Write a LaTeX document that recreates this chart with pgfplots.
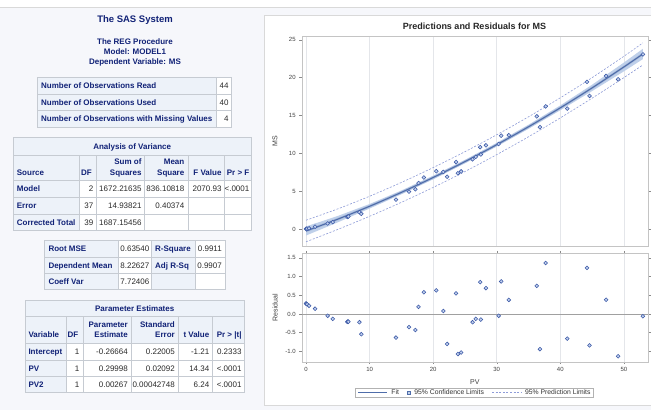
\documentclass[border=0pt]{standalone}
\usepackage{fontspec}
\setmainfont{Liberation Sans}
\usepackage{pgfplots}
\pgfplotsset{compat=1.18}
\usepackage{pgfplotstable}

\definecolor{pagebg}{HTML}{F6F7FB}
\definecolor{hdr}{HTML}{EDF2F9}
\definecolor{hdrtxt}{HTML}{112277}
\definecolor{bord}{HTML}{C6CBD2}
\definecolor{valc}{HTML}{2A2A2A}
\definecolor{framec}{HTML}{C4C4C4}
\definecolor{gridc}{HTML}{E4E6EA}
\definecolor{tickc}{HTML}{8A8A8A}
\definecolor{labc}{HTML}{404040}
\definecolor{fitc}{HTML}{4F6DAA}
\definecolor{clmc}{HTML}{BFD0EA}
\definecolor{plc}{HTML}{8E9CD8}
\definecolor{ptc}{HTML}{3B58A6}
\definecolor{ptfill}{HTML}{C2D1EE}
\definecolor{refc}{HTML}{A0A0A0}

\newcommand\tf{\fontsize{8}{9.6}\selectfont}
\newcommand\tfb{\fontsize{8}{9.6}\selectfont\bfseries}

% PV, MS, residual
\pgfplotstableread{
PV    MS     Res
0.00  0.01   0.28
0.05  0.02   0.27
0.16  0.04   0.26
0.47  0.09   0.22
1.42  0.30   0.14
3.40  0.73  -0.05
4.20  0.91  -0.13
6.50  1.59  -0.21
6.60  1.63  -0.20
6.66  1.64  -0.21
8.40  2.22  -0.22
8.70  2.00  -0.54
14.15 3.88  -0.63
16.20 4.94  -0.35
17.20 5.25  -0.43
17.70 6.07   0.19
18.55 6.80   0.58
20.50 7.64   0.63
21.60 7.54   0.08
22.20 6.91  -0.80
23.60 8.85   0.55
23.90 7.36  -1.07
24.40 7.61  -1.03
26.20 9.21  -0.22
26.70 9.52  -0.13
27.40 10.81  0.85
27.50 9.85  -0.15
28.30 11.05  0.69
30.30 11.22 -0.05
30.70 12.33  0.87
31.90 12.39  0.375
36.30 14.89  0.75
36.80 13.45 -0.94
37.70 16.20  1.36
41.10 15.91 -0.66
44.20 19.44  1.23
44.60 17.58 -0.84
47.20 20.22  0.38
49.10 19.77 -1.13
53.00 23.07 -0.06
}\obs

\pgfplotsset{sasaxis/.style={
  scale only axis, width=346.3pt,
  xmin=-0.68, xmax=53.8,
  axis line style={draw=framec},
  tick align=outside, major tick length=2.5pt,
  tick style={draw=tickc, line width=0.4pt},
  xmajorgrids, major x grid style={draw=gridc, line width=0.5pt},
  xtick={0,10,...,50},
  tick label style={font=\fontsize{6}{7}\selectfont, text=labc},
  /pgf/number format/assume math mode=true,
  label style={font=\fontsize{7}{8}\selectfont, text=labc},
  mark options={solid},
}}

\begin{document}
\begin{tikzpicture}
\useasboundingbox (0pt,0pt) rectangle (651pt,-410pt);
\begin{scope}[x=1pt,y=-1pt]
\tikzset{
  cellb/.style={fill=hdr,draw=bord,line width=0.5pt},
  cellw/.style={fill=white,draw=bord,line width=0.5pt},
  L/.style={anchor=base west,inner sep=0pt,font=\tfb,text=hdrtxt},
  R/.style={anchor=base east,inner sep=0pt,font=\tf,text=valc},
  RB/.style={anchor=base east,inner sep=0pt,font=\tfb,text=hdrtxt},
  C/.style={anchor=base,inner sep=0pt,font=\tfb,text=hdrtxt}}
\fill[white] (0,0) rectangle (651,410);
\fill[pagebg] (0,7) rectangle (651,410);
\draw[black!15,line width=1pt] (0,7) -- (651,7);
\filldraw[fill=white,draw=black!15,line width=0.8pt] (264.5,15) rectangle (660,405);

% headings
\node[anchor=base,inner sep=0pt,font=\fontsize{9.5}{11}\selectfont\bfseries,text=hdrtxt] at (135,22.7) {The SAS System};
\node[C] at (135,44.9) {The REG Procedure};
\node[C] at (135,54.6) {Model: MODEL1};
\node[C] at (135,64.6) {Dependent Variable: MS};

% observations
\path[cellb] (37.7,77.3) rectangle (216,94.3);
\path[cellw] (216,77.3) rectangle (231,94.3);
\path[cellb] (37.7,94.3) rectangle (216,110.7);
\path[cellw] (216,94.3) rectangle (231,110.7);
\path[cellb] (37.7,110.7) rectangle (216,127.3);
\path[cellw] (216,110.7) rectangle (231,127.3);
\node[L] at (41,88.7) {Number of Observations Read};
\node[L] at (41,105.4) {Number of Observations Used};
\node[L] at (41,121.9) {Number of Observations with Missing Values};
\node[R] at (228.7,88.7) {44};
\node[R] at (228.7,105.4) {40};
\node[R] at (228.7,121.9) {4};

% analysis of variance
\path[cellb] (13.3,137.7) rectangle (251,155.7);
\foreach \a/\b in {13.3/79.3,79.3/96.7,96.7/144,144/188.3,188.3/224.3,224.3/251}
  \path[cellb] (\a,155.7) rectangle (\b,180.7);
\foreach \ya/\yb in {180.7/197.3,197.3/214,214/230.7}{
  \path[cellb] (13.3,\ya) rectangle (79.3,\yb);
  \foreach \a/\b in {79.3/96.7,96.7/144,144/188.3,188.3/224.3,224.3/251}
    \path[cellw] (\a,\ya) rectangle (\b,\yb);
}
\node[C] at (132.2,149.6) {Analysis of Variance};
\node[L] at (16.7,175.2) {Source};
\node[RB] at (92,175.2) {DF};
\node[RB] at (141.7,164.6) {Sum of};
\node[RB] at (141.7,175.2) {Squares};
\node[RB] at (184.5,164.6) {Mean};
\node[RB] at (184.5,175.2) {Square};
\node[RB] at (221.7,175.2) {F Value};
\node[RB] at (249.5,175.2) {Pr > F};
\node[L] at (16.7,191.9) {Model};
\node[R] at (93.5,191.9) {2};
\node[R] at (141.7,191.9) {1672.21635};
\node[R] at (184.5,191.9) {836.10818};
\node[R] at (221.7,191.9) {2070.93};
\node[R] at (249.5,191.9) {<.0001};
\node[L] at (16.7,208.6) {Error};
\node[R] at (93.5,208.6) {37};
\node[R] at (141.7,208.6) {14.93821};
\node[R] at (184.5,208.6) {0.40374};
\node[L] at (16.7,225.2) {Corrected Total};
\node[R] at (93.5,225.2) {39};
\node[R] at (141.7,225.2) {1687.15456};

% fit statistics
\foreach \ya/\yb in {240.7/257.3,257.3/273.3,273.3/289.3}{
  \path[cellb] (44,\ya) rectangle (118.3,\yb);
  \path[cellw] (118.3,\ya) rectangle (151.7,\yb);
  \path[cellb] (151.7,\ya) rectangle (195,\yb);
  \path[cellw] (195,\ya) rectangle (225.7,\yb);
}
\node[L] at (48.3,251.9) {Root MSE};
\node[L] at (48.3,268.2) {Dependent Mean};
\node[L] at (48.3,284.7) {Coeff Var};
\node[R] at (149.5,251.9) {0.63540};
\node[R] at (149.5,268.2) {8.22627};
\node[R] at (149.5,284.7) {7.72406};
\node[L] at (155,251.9) {R-Square};
\node[L] at (155,268.2) {Adj R-Sq};
\node[R] at (222,251.9) {0.9911};
\node[R] at (222,268.2) {0.9907};

% parameter estimates
\path[cellb] (25,300) rectangle (244.3,316.7);
\foreach \a/\b in {25/66.7,66.7/83.3,83.3/131.7,131.7/178.3,178.3/212.7,212.7/244.3}
  \path[cellb] (\a,316.7) rectangle (\b,343.3);
\foreach \ya/\yb in {343.3/360,360/376,376/392.7}{
  \path[cellb] (25,\ya) rectangle (66.7,\yb);
  \foreach \a/\b in {66.7/83.3,83.3/131.7,131.7/178.3,178.3/212.7,212.7/244.3}
    \path[cellw] (\a,\ya) rectangle (\b,\yb);
}
\node[C] at (134.7,311.2) {Parameter Estimates};
\node[L] at (28.3,337.9) {Variable};
\node[RB] at (78.5,337.9) {DF};
\node[RB] at (128,327.2) {Parameter};
\node[RB] at (128,337.9) {Estimate};
\node[RB] at (175,327.2) {Standard};
\node[RB] at (175,337.9) {Error};
\node[RB] at (209.5,337.9) {t Value};
\node[RB] at (241.7,337.9) {Pr > |t|};
\node[L] at (28.3,354.6) {Intercept};
\node[R] at (79.5,354.6) {1};
\node[R] at (128,354.6) {-0.26664};
\node[R] at (175,354.6) {0.22005};
\node[R] at (209.5,354.6) {-1.21};
\node[R] at (241.7,354.6) {0.2333};
\node[L] at (28.3,371.2) {PV};
\node[R] at (79.5,371.2) {1};
\node[R] at (128,371.2) {0.29998};
\node[R] at (175,371.2) {0.02092};
\node[R] at (209.5,371.2) {14.34};
\node[R] at (241.7,371.2) {<.0001};
\node[L] at (28.3,387.2) {PV2};
\node[R] at (79.5,387.2) {1};
\node[R] at (128,387.2) {0.00267};
\node[R] at (175,387.2) {0.00042748};
\node[R] at (209.5,387.2) {6.24};
\node[R] at (241.7,387.2) {<.0001};

\node[anchor=base,inner sep=0pt,font=\fontsize{9}{11}\selectfont\bfseries,text=black!85] at (474.5,29.9) {Predictions and Residuals for MS};
\end{scope}

% fit plot
\begin{axis}[sasaxis,
  at={(301.7pt,-246pt)}, anchor=south west, height=210pt,
  ymin=-2.25, ymax=25.5, ytick={0,5,...,25},
  xticklabels={}, xtick style={draw=none},
  ylabel={MS},
  ylabel style={at={(axis description cs:-0.077,0.5)},anchor=center},
]
\addplot[fill=clmc, draw=none] coordinates {
 (0,0.333) (5,1.720) (10,3.300) (15,5.084) (20,7.041) (25,9.131) (30,11.376)
 (35,13.773) (40,16.325) (45,19.059) (50,21.987) (53,23.812)
 (53,22.452) (50,20.827) (45,18.219) (40,15.685) (35,13.233) (30,10.896)
 (25,8.671) (20,6.561) (15,4.584) (10,2.700) (5,0.880) (0,-0.867)} -- cycle;
\addplot[plc, line width=0.6pt, dash pattern=on 2pt off 1.6pt, smooth] coordinates {
 (0,1.156) (5,2.657) (10,4.324) (15,6.148) (20,8.113) (25,10.211) (30,12.448)
 (35,14.821) (40,17.334) (45,19.994) (50,22.820) (53,24.587)};
\addplot[plc, line width=0.6pt, dash pattern=on 2pt off 1.6pt, smooth] coordinates {
 (0,-1.690) (5,-0.057) (10,1.676) (15,3.520) (20,5.489) (25,7.591) (30,9.824)
 (35,12.185) (40,14.676) (45,17.284) (50,19.994) (53,21.677)};
\addplot[fitc!60, line width=2.4pt, smooth, opacity=0.5] coordinates {
 (0,-0.267) (5,1.300) (10,3.000) (15,4.834) (20,6.801) (25,8.901) (30,11.136)
 (35,13.503) (40,16.005) (45,18.639) (50,21.407) (53,23.132)};
\addplot[fitc, line width=1.1pt, smooth] coordinates {
 (0,-0.267) (5,1.300) (10,3.000) (15,4.834) (20,6.801) (25,8.901) (30,11.136)
 (35,13.503) (40,16.005) (45,18.639) (50,21.407) (53,23.132)};
\addplot[only marks, mark=*, mark size=1.9pt, mark options={draw=ptc, fill=ptfill, line width=0.55pt}] table[x=PV, y=MS] {\obs};
\end{axis}

% residual plot
\begin{axis}[sasaxis,
  at={(301.7pt,-361.7pt)}, anchor=south west, height=108.4pt,
  ymin=-1.275, ymax=1.62, ytick={-1,-0.5,...,1.5},
  yticklabel style={/pgf/number format/.cd, fixed, fixed zerofill, precision=1},
  xlabel={PV}, ylabel={Residual},
  xlabel style={at={(axis description cs:0.5,-0.185)},anchor=center},
  ylabel style={at={(axis description cs:-0.077,0.5)},anchor=center},
  legend style={at={(axis description cs:0.499,-0.284)}, anchor=center,
    draw=black!30, fill=white, font=\fontsize{6.8}{8}\selectfont,
    inner xsep=2pt, inner ysep=0.5pt,
    nodes={inner sep=0.8pt, text=black!80},
    /tikz/every odd column/.append style={column sep=3pt},
    /tikz/every even column/.append style={column sep=7pt}},
  legend columns=3, legend cell align=left,
]
\addlegendimage{legend image code/.code={\draw[fitc,line width=0.9pt] (0pt,0pt) -- (29pt,0pt);}}
\addlegendentry{Fit}
\addlegendimage{legend image code/.code={\draw[fill=clmc,draw=fitc,line width=0.5pt] (-1.7pt,-1.7pt) rectangle (1.7pt,1.7pt);}}
\addlegendentry{95\% Confidence Limits}
\addlegendimage{legend image code/.code={\draw[plc,line width=0.6pt,dash pattern=on 2pt off 1.6pt] (0pt,0pt) -- (29pt,0pt);}}
\addlegendentry{95\% Prediction Limits}
\addplot[refc, line width=0.6pt, forget plot] coordinates {(-0.68,0) (53.8,0)};
\addplot[only marks, mark=*, mark size=1.9pt, mark options={draw=ptc, fill=ptfill, line width=0.55pt}, forget plot] table[x=PV, y=Res] {\obs};
\end{axis}
\end{tikzpicture}
\end{document}
